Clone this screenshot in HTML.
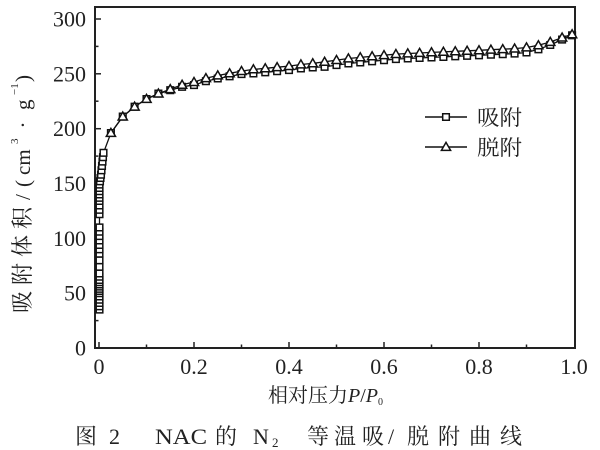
<!DOCTYPE html>
<html><head><meta charset="utf-8"><style>
html,body{margin:0;padding:0;background:#fff;width:600px;height:450px;overflow:hidden}
svg{display:block}
.n{font-family:"Liberation Serif","Noto Serif CJK SC",serif;fill:#222}
.c{font-family:"Liberation Serif","Noto Serif CJK SC",serif;fill:#222}
</style></head><body>
<svg width="600" height="450" viewBox="0 0 600 450" xmlns="http://www.w3.org/2000/svg">
<defs>
<path id="sq" d="M-3.3,-3.3h6.6v6.6h-6.6z" fill="#fff" stroke="#111" stroke-width="1.5"/>
<path id="tr" d="M-4.6,3.4L0,-4.6L4.6,3.4Z" fill="#fff" stroke="#111" stroke-width="1.5" stroke-linejoin="miter"/>
</defs>
<!-- frame -->
<rect x="95" y="7" width="480" height="341" fill="none" stroke="#222" stroke-width="2"/>
<!-- left ticks -->
<g stroke="#222" stroke-width="1.5">
<line x1="95" y1="293.2" x2="101" y2="293.2"/>
<line x1="95" y1="238.3" x2="101" y2="238.3"/>
<line x1="95" y1="183.5" x2="101" y2="183.5"/>
<line x1="95" y1="128.7" x2="101" y2="128.7"/>
<line x1="95" y1="73.8" x2="101" y2="73.8"/>
<line x1="95" y1="19" x2="101" y2="19"/>
<line x1="95" y1="320.6" x2="98.5" y2="320.6"/>
<line x1="95" y1="265.7" x2="98.5" y2="265.7"/>
<line x1="95" y1="210.9" x2="98.5" y2="210.9"/>
<line x1="95" y1="156.1" x2="98.5" y2="156.1"/>
<line x1="95" y1="101.2" x2="98.5" y2="101.2"/>
<line x1="95" y1="46.4" x2="98.5" y2="46.4"/>
<!-- bottom ticks -->
<line x1="99" y1="348" x2="99" y2="342"/>
<line x1="194" y1="348" x2="194" y2="342"/>
<line x1="289" y1="348" x2="289" y2="342"/>
<line x1="384" y1="348" x2="384" y2="342"/>
<line x1="479" y1="348" x2="479" y2="342"/>
<line x1="146.5" y1="348" x2="146.5" y2="344.5"/>
<line x1="241.5" y1="348" x2="241.5" y2="344.5"/>
<line x1="336.5" y1="348" x2="336.5" y2="344.5"/>
<line x1="431.5" y1="348" x2="431.5" y2="344.5"/>
<line x1="526.5" y1="348" x2="526.5" y2="344.5"/>
</g>
<!-- y tick labels -->
<g class="n" font-size="22" text-anchor="end">
<text x="86" y="355.5">0</text>
<text x="86" y="300.7">50</text>
<text x="86" y="245.8">100</text>
<text x="86" y="191">150</text>
<text x="86" y="136.2">200</text>
<text x="86" y="81.3">250</text>
<text x="86" y="26.5">300</text>
</g>
<!-- x tick labels -->
<g class="n" font-size="22" text-anchor="middle">
<text x="99" y="374">0</text>
<text x="194" y="374">0.2</text>
<text x="289" y="374">0.4</text>
<text x="384" y="374">0.6</text>
<text x="479" y="374">0.8</text>
<text x="574" y="374">1.0</text>
</g>
<!-- adsorption line -->
<polyline fill="none" stroke="#111" stroke-width="1.3" points="99.5,309.6 99.5,306.3 99.5,303 99.5,299.7 99.5,296.5 99.5,293.2 99.5,291 99.5,288.8 99.5,286.6 99.5,284.4 99.5,282.2 99.5,280 99.5,276.7 99.5,273.4 99.5,266.8 99.5,260.3 99.5,253.7 99.5,249.3 99.5,244.9 99.5,240.5 99.5,236.1 99.5,231.7 99.5,227.4 99.5,214.2 99.5,209.8 99.5,205.4 99.5,201 99.5,197.8 99.5,194.5 99.5,191.2 99.5,187.9 99.5,184.6 100,181.3 100.5,178 101,174.7 101.5,170.3 102,165.9 102.5,161.6 103,157.2 103.5,152.8 110.9,133 122.75,116.6 134.6,106.7 146.5,99 158.4,93.6 170.25,90.2 182.1,86.8 194,85.05 205.9,81.2 217.75,78.5 229.6,76.3 241.5,74.1 253.4,73.4 265.25,72.3 277.1,71.2 289,70.1 300.9,68.5 312.75,67.4 324.6,66.8 336.5,65.1 348.4,63.5 360.25,62.4 372.1,61.3 384,60.2 395.9,59.1 407.75,58.5 419.6,58 431.5,57.4 443.4,56.9 455.25,56.3 467.1,55.8 479,55.3 490.9,54.7 502.75,54.2 514.6,53.6 526.5,52.5 538.4,49.3 550.25,45 562.1,39.6 572.1,35.3"/>
<!-- desorption line -->
<polyline fill="none" stroke="#111" stroke-width="1.3" points="110.9,133 122.75,116.6 134.6,106.7 146.5,99 158.4,93.6 170.25,89.2 182.1,84.8 194,82.05 205.9,78.2 217.75,75.5 229.6,73.3 241.5,71.1 253.4,69.4 265.25,68.3 277.1,67.2 289,66.1 300.9,64.5 312.75,63.4 324.6,61.8 336.5,60.1 348.4,58.5 360.25,57.4 372.1,56.3 384,55.2 395.9,54.1 407.75,53.5 419.6,53 431.5,52.4 443.4,51.9 455.25,51.3 467.1,50.8 479,50.3 490.9,49.7 502.75,49.2 514.6,48.6 526.5,47.5 538.4,45.3 550.25,42 562.1,37.6 572.1,34.3"/>
<!-- adsorption squares -->
<g>
<use href="#sq" x="99.5" y="309.6"/><use href="#sq" x="99.5" y="306.3"/><use href="#sq" x="99.5" y="303"/><use href="#sq" x="99.5" y="299.7"/><use href="#sq" x="99.5" y="296.5"/><use href="#sq" x="99.5" y="293.2"/><use href="#sq" x="99.5" y="291"/><use href="#sq" x="99.5" y="288.8"/><use href="#sq" x="99.5" y="286.6"/><use href="#sq" x="99.5" y="284.4"/><use href="#sq" x="99.5" y="282.2"/><use href="#sq" x="99.5" y="280"/><use href="#sq" x="99.5" y="276.7"/><use href="#sq" x="99.5" y="273.4"/><use href="#sq" x="99.5" y="266.8"/><use href="#sq" x="99.5" y="260.3"/><use href="#sq" x="99.5" y="253.7"/><use href="#sq" x="99.5" y="249.3"/><use href="#sq" x="99.5" y="244.9"/><use href="#sq" x="99.5" y="240.5"/><use href="#sq" x="99.5" y="236.1"/><use href="#sq" x="99.5" y="231.7"/><use href="#sq" x="99.5" y="227.4"/><use href="#sq" x="99.5" y="214.2"/><use href="#sq" x="99.5" y="209.8"/><use href="#sq" x="99.5" y="205.4"/><use href="#sq" x="99.5" y="201"/><use href="#sq" x="99.5" y="197.8"/><use href="#sq" x="99.5" y="194.5"/><use href="#sq" x="99.5" y="191.2"/><use href="#sq" x="99.5" y="187.9"/><use href="#sq" x="99.5" y="184.6"/><use href="#sq" x="100" y="181.3"/><use href="#sq" x="100.5" y="178"/><use href="#sq" x="101" y="174.7"/><use href="#sq" x="101.5" y="170.3"/><use href="#sq" x="102" y="165.9"/><use href="#sq" x="102.5" y="161.6"/><use href="#sq" x="103" y="157.2"/><use href="#sq" x="103.5" y="152.8"/>
<use href="#sq" x="110.9" y="133"/><use href="#sq" x="122.75" y="116.6"/><use href="#sq" x="134.6" y="106.7"/><use href="#sq" x="146.5" y="99"/><use href="#sq" x="158.4" y="93.6"/><use href="#sq" x="170.25" y="90.2"/><use href="#sq" x="182.1" y="86.8"/><use href="#sq" x="194" y="85.05"/><use href="#sq" x="205.9" y="81.2"/><use href="#sq" x="217.75" y="78.5"/><use href="#sq" x="229.6" y="76.3"/><use href="#sq" x="241.5" y="74.1"/><use href="#sq" x="253.4" y="73.4"/><use href="#sq" x="265.25" y="72.3"/><use href="#sq" x="277.1" y="71.2"/><use href="#sq" x="289" y="70.1"/><use href="#sq" x="300.9" y="68.5"/><use href="#sq" x="312.75" y="67.4"/><use href="#sq" x="324.6" y="66.8"/><use href="#sq" x="336.5" y="65.1"/><use href="#sq" x="348.4" y="63.5"/><use href="#sq" x="360.25" y="62.4"/><use href="#sq" x="372.1" y="61.3"/><use href="#sq" x="384" y="60.2"/><use href="#sq" x="395.9" y="59.1"/><use href="#sq" x="407.75" y="58.5"/><use href="#sq" x="419.6" y="58"/><use href="#sq" x="431.5" y="57.4"/><use href="#sq" x="443.4" y="56.9"/><use href="#sq" x="455.25" y="56.3"/><use href="#sq" x="467.1" y="55.8"/><use href="#sq" x="479" y="55.3"/><use href="#sq" x="490.9" y="54.7"/><use href="#sq" x="502.75" y="54.2"/><use href="#sq" x="514.6" y="53.6"/><use href="#sq" x="526.5" y="52.5"/><use href="#sq" x="538.4" y="49.3"/><use href="#sq" x="550.25" y="45"/><use href="#sq" x="562.1" y="39.6"/><use href="#sq" x="572.1" y="35.3"/>
</g>
<!-- desorption triangles -->
<g>
<use href="#tr" x="110.9" y="133"/><use href="#tr" x="122.75" y="116.6"/><use href="#tr" x="134.6" y="106.7"/><use href="#tr" x="146.5" y="99"/><use href="#tr" x="158.4" y="93.6"/><use href="#tr" x="170.25" y="89.2"/><use href="#tr" x="182.1" y="84.8"/><use href="#tr" x="194" y="82.05"/><use href="#tr" x="205.9" y="78.2"/><use href="#tr" x="217.75" y="75.5"/><use href="#tr" x="229.6" y="73.3"/><use href="#tr" x="241.5" y="71.1"/><use href="#tr" x="253.4" y="69.4"/><use href="#tr" x="265.25" y="68.3"/><use href="#tr" x="277.1" y="67.2"/><use href="#tr" x="289" y="66.1"/><use href="#tr" x="300.9" y="64.5"/><use href="#tr" x="312.75" y="63.4"/><use href="#tr" x="324.6" y="61.8"/><use href="#tr" x="336.5" y="60.1"/><use href="#tr" x="348.4" y="58.5"/><use href="#tr" x="360.25" y="57.4"/><use href="#tr" x="372.1" y="56.3"/><use href="#tr" x="384" y="55.2"/><use href="#tr" x="395.9" y="54.1"/><use href="#tr" x="407.75" y="53.5"/><use href="#tr" x="419.6" y="53"/><use href="#tr" x="431.5" y="52.4"/><use href="#tr" x="443.4" y="51.9"/><use href="#tr" x="455.25" y="51.3"/><use href="#tr" x="467.1" y="50.8"/><use href="#tr" x="479" y="50.3"/><use href="#tr" x="490.9" y="49.7"/><use href="#tr" x="502.75" y="49.2"/><use href="#tr" x="514.6" y="48.6"/><use href="#tr" x="526.5" y="47.5"/><use href="#tr" x="538.4" y="45.3"/><use href="#tr" x="550.25" y="42"/><use href="#tr" x="562.1" y="37.6"/><use href="#tr" x="572.1" y="34.3"/>
</g>
<!-- legend -->
<line x1="425" y1="117" x2="467" y2="117" stroke="#111" stroke-width="1.5"/>
<use href="#sq" x="446" y="117"/>
<line x1="425" y1="147" x2="467" y2="147" stroke="#111" stroke-width="1.5"/>
<use href="#tr" x="446" y="147"/>
<text class="c" x="477" y="125" font-size="21" textLength="45" lengthAdjust="spacingAndGlyphs">吸附</text>
<text class="c" x="477" y="155" font-size="21" textLength="45" lengthAdjust="spacingAndGlyphs">脱附</text>
<!-- y axis title -->
<g class="c" transform="translate(30,317) rotate(-90)" font-size="22">
<text x="4" y="0" letter-spacing="6">吸附体积</text>
<text x="117" y="0" font-size="21">/</text>
<text x="130" y="0" font-size="21">(</text>
<text x="142" y="0" font-size="21">cm</text>
<text x="173" y="-12" font-size="11">3</text>
<text x="188.5" y="0" font-size="21">·</text>
<text x="207" y="0" font-size="21">g</text>
<text x="222" y="-12" font-size="11">−1</text>
<text x="235" y="0" font-size="21">)</text>
</g>
<!-- x axis title -->
<text class="c" x="268" y="402" font-size="20">相对压力<tspan font-style="italic">P</tspan>/<tspan font-style="italic">P</tspan><tspan font-size="10" dy="3">0</tspan></text>
<!-- caption -->
<g class="c" font-size="22">
<text x="75" y="444">图</text>
<text x="109" y="444">2</text>
<text x="155" y="444" textLength="52" lengthAdjust="spacingAndGlyphs">NAC</text>
<text x="215" y="444">的</text>
<text x="253" y="444">N</text>
<text x="272" y="447" font-size="13">2</text>
<text x="307" y="444">等</text>
<text x="334" y="444">温</text>
<text x="362" y="444">吸</text>
<text x="388" y="444">/</text>
<text x="407" y="444">脱</text>
<text x="438" y="444">附</text>
<text x="469" y="444">曲</text>
<text x="500" y="444">线</text>
</g>
</svg>
</body></html>
